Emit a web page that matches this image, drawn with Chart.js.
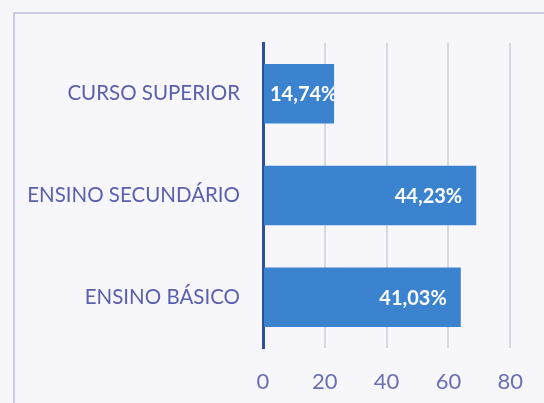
<!DOCTYPE html>
<html>
<head>
<meta charset="utf-8">
<script src="https://cdn.jsdelivr.net/npm/chart.js@4"></script>
<style>
  html, body { margin: 0; padding: 0; background: #f7f7fa; }
  #wrap { width: 544px; height: 403px; position: relative; }
</style>
</head>
<body>
<div id="wrap"><canvas id="myCanvas"></canvas></div>
<script>
// categories, counts (bar length) and the percent labels shown on the bars
const categories = ['CURSO SUPERIOR', 'ENSINO SECUNDÁRIO', 'ENSINO BÁSICO'];
const counts = [23, 69, 64];
const percentLabels = ['14,74%', '44,23%', '41,03%'];
const xTicks = [0, 20, 40, 60, 80];

const frame = {
  id: 'frame',
  beforeDraw(chart) {
    const ctx = chart.ctx;
    ctx.save();
    ctx.fillStyle = '#f7f7fa';
    ctx.fillRect(0, 0, chart.width, chart.height);
    ctx.fillStyle = '#f6f6fb';
    ctx.fillRect(14, 13, chart.width, chart.height);
    ctx.strokeStyle = '#c9c9ec';
    ctx.lineWidth = 2;
    ctx.strokeRect(14, 13, chart.width, chart.height);
    ctx.restore();
  },
};

const barLabels = {
  id: 'barLabels',
  afterDatasetsDraw(chart) {
    const ctx = chart.ctx;
    const meta = chart.getDatasetMeta(0);
    ctx.save();
    ctx.font = 'bold 20px Lato';
    ctx.fillStyle = '#ffffff';
    ctx.textBaseline = 'middle';
    meta.data.forEach((bar, i) => {
      const txt = percentLabels[i];
      const w = ctx.measureText(txt).width;
      let x = bar.x - 14 - w;
      if (x < bar.base + 6) x = bar.base + 6;
      ctx.save();
      ctx.beginPath();
      ctx.rect(bar.base, bar.y - 40, bar.x - bar.base, 80);
      ctx.clip();
      ctx.fillText(txt, x, bar.y + 1);
      ctx.restore();
    });
    ctx.restore();
  },
};

new Chart(document.getElementById('myCanvas'), {
  type: 'bar',
  data: {
    labels: categories,
    datasets: [
      {
        data: counts,
        backgroundColor: '#3b83cf',
        borderWidth: 0,
        categoryPercentage: 1,
        barPercentage: 0.585,
      },
    ],
  },
  options: {
    indexAxis: 'y',
    responsive: true,
    maintainAspectRatio: false,
    animation: false,
    layout: { padding: { top: 43, right: 32, left: 0, bottom: 0 } },
    plugins: { legend: { display: false }, tooltip: { enabled: false } },
    scales: {
      x: {
        min: 0,
        max: 80,
        afterBuildTicks: (scale) => {
          scale.ticks = xTicks.map((v) => ({ value: v }));
        },
        afterFit: (scale) => {
          scale.height = 55;
        },
        grid: {
          color: (c) => (c.tick.value === 0 ? 'rgba(0,0,0,0)' : '#d6d8e4'),
          lineWidth: 2,
          drawTicks: false,
        },
        border: { display: false },
        ticks: {
          color: '#6b70b4',
          font: { family: 'Lato', size: 22 },
          padding: 21,
        },
      },
      y: {
        afterFit: (scale) => {
          scale.width = 263;
        },
        grid: { display: false },
        border: { display: true, color: '#2d4f98', width: 3 },
        ticks: {
          color: '#5a5fae',
          font: { family: 'Lato', size: 20.5 },
          padding: 15,
        },
      },
    },
  },
  plugins: [frame, barLabels],
});
</script>
</body>
</html>
